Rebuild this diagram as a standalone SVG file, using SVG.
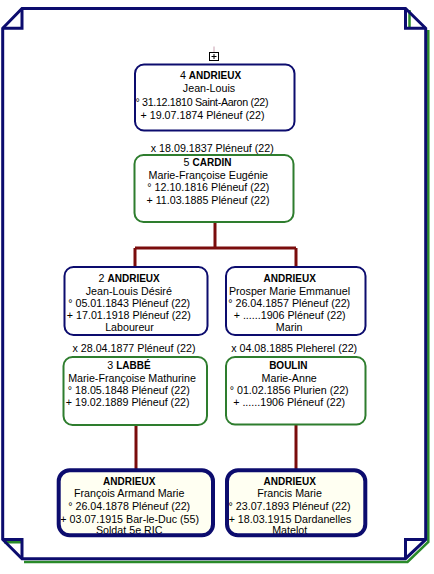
<svg xmlns="http://www.w3.org/2000/svg" width="434" height="574" viewBox="0 0 434 574">
<style>
text{font-family:"Liberation Sans",Arial,sans-serif;font-size:10.7px;fill:#000;text-anchor:middle}
.bd{font-weight:bold;font-size:10px}
.nv{fill:#fff;stroke:#0c0c6e;stroke-width:2}
.gr{fill:#fff;stroke:#2e7d2e;stroke-width:2}
.bf{fill:#fffff2;stroke:none}
.bs{fill:none;stroke:#0c0c6e;stroke-width:4}
.c{fill:none;stroke:#7a0c0c;stroke-width:3}
.fr{fill:none;stroke:#0c0c6e;stroke-width:3;stroke-linejoin:miter}
.fs{fill:none;stroke:#2a8a2a;stroke-width:2.5}
</style>
<g id="frame">
<path class="fs" d="M409.5,10 V27 M428.3,30 V542 L407.5,562 H24 M4,542.3 H21"/>
<path class="fr" d="M22,8.5 H405.5 L425.7,28.3 V539.5 L405.5,558.7 H22 L2.7,539.5 V28.3 Z"/>
<path class="fr" d="M22,8.5 V28.3 H2.7 M405.5,8.5 V28.3 H425.7 M2.7,539.5 H22 V558.7 M425.7,539.5 H405.5 V558.7"/>
</g>
<g id="expand">
<line x1="214" y1="46.5" x2="214" y2="52.5" stroke="#c8a0b0" stroke-width="1"/>
<rect x="209.5" y="52.5" width="9" height="8" fill="#fff" stroke="#000" stroke-width="1"/>
<path d="M211.5,56.5 H216.5 M214,54 V59" stroke="#000" stroke-width="1"/>
</g>
<g id="connectors">
<path class="c" d="M215,222 V248 M135,248 H296 M135,248 V267 M296,248 V267"/>
<path class="c" d="M136,425 V469"/>
<path class="c" d="M296,424.5 V469"/>
</g>
<g id="n4">
<rect class="nv" x="135" y="64.5" width="159.5" height="66" rx="9"/>
<text x="210.5" y="78.5">4 <tspan class="bd">ANDRIEUX</tspan></text>
<text x="209" y="92">Jean-Louis</text>
<text x="202" y="105.5" textLength="133">° 31.12.1810 Saint-Aaron (22)</text>
<text x="202.5" y="119">+ 19.07.1874 Pléneuf (22)</text>
</g>
<g id="n5">
<text x="212.3" y="151.5">x 18.09.1837 Pléneuf (22)</text>
<rect class="gr" x="134.5" y="155" width="159" height="67" rx="9"/>
<text x="207.5" y="166">5 <tspan class="bd">CARDIN</tspan></text>
<text x="208.3" y="178.5">Marie-Françoise Eugénie</text>
<text x="208.3" y="191">° 12.10.1816 Pléneuf (22)</text>
<text x="208" y="203.5">+ 11.03.1885 Pléneuf (22)</text>
</g>
<g id="n2">
<rect class="nv" x="64.5" y="267" width="143" height="68" rx="9"/>
<text x="129.2" y="282">2 <tspan class="bd">ANDRIEUX</tspan></text>
<text x="128.8" y="294.5">Jean-Louis Désiré</text>
<text x="129.2" y="307">° 05.01.1843 Pléneuf (22)</text>
<text x="128.8" y="319">+ 17.01.1918 Pléneuf (22)</text>
<text x="129.5" y="331">Laboureur</text>
</g>
<g id="nprosper">
<rect class="nv" x="226" y="267" width="139.5" height="68" rx="9"/>
<text x="289.7" y="282" class="bd">ANDRIEUX</text>
<text x="289.5" y="294.5">Prosper Marie Emmanuel</text>
<text x="289.2" y="307">° 26.04.1857 Pléneuf (22)</text>
<text x="289.7" y="319">+ ......1906 Pléneuf (22)</text>
<text x="289.2" y="331">Marin</text>
</g>
<g id="n3">
<text x="134" y="352">x 28.04.1877 Pléneuf (22)</text>
<rect class="gr" x="63.5" y="357" width="143.5" height="68" rx="9"/>
<text x="129" y="369">3 <tspan class="bd">LABBÉ</tspan></text>
<text x="132" y="381.5">Marie-Françoise Mathurine</text>
<text x="128.8" y="394">° 18.05.1848 Pléneuf (22)</text>
<text x="127.7" y="406">+ 19.02.1889 Pléneuf (22)</text>
</g>
<g id="nboulin">
<text x="294.2" y="352">x 04.08.1885 Pleherel (22)</text>
<rect class="gr" x="226" y="357" width="139.5" height="67.5" rx="9"/>
<text x="288.3" y="369" class="bd">BOULIN</text>
<text x="289.2" y="381.5">Marie-Anne</text>
<text x="289.2" y="394">° 01.02.1856 Plurien (22)</text>
<text x="289.2" y="406">+ ......1906 Pléneuf (22)</text>
</g>
<g id="nfrancois">
<rect class="bf" x="58.7" y="470.3" width="154.3" height="65" rx="11"/>
<text x="129.2" y="485" class="bd">ANDRIEUX</text>
<text x="129.2" y="497.3">François Armand Marie</text>
<text x="129.2" y="510">° 26.04.1878 Pléneuf (22)</text>
<text x="129.7" y="522.5">+ 03.07.1915 Bar-le-Duc (55)</text>
<text x="129.2" y="534">Soldat 5e RIC</text>
<rect class="bs" x="58.7" y="470.3" width="154.3" height="65" rx="11"/>
</g>
<g id="nfrancis">
<rect class="bf" x="227" y="470.3" width="138.3" height="65" rx="11"/>
<text x="289.7" y="485" class="bd">ANDRIEUX</text>
<text x="289.5" y="497.3">Francis Marie</text>
<text x="289.5" y="510">° 23.07.1893 Pléneuf (22)</text>
<text x="290" y="522.5">+ 18.03.1915 Dardanelles</text>
<text x="289.7" y="534">Matelot</text>
<rect class="bs" x="227" y="470.3" width="138.3" height="65" rx="11"/>
</g>
</svg>
